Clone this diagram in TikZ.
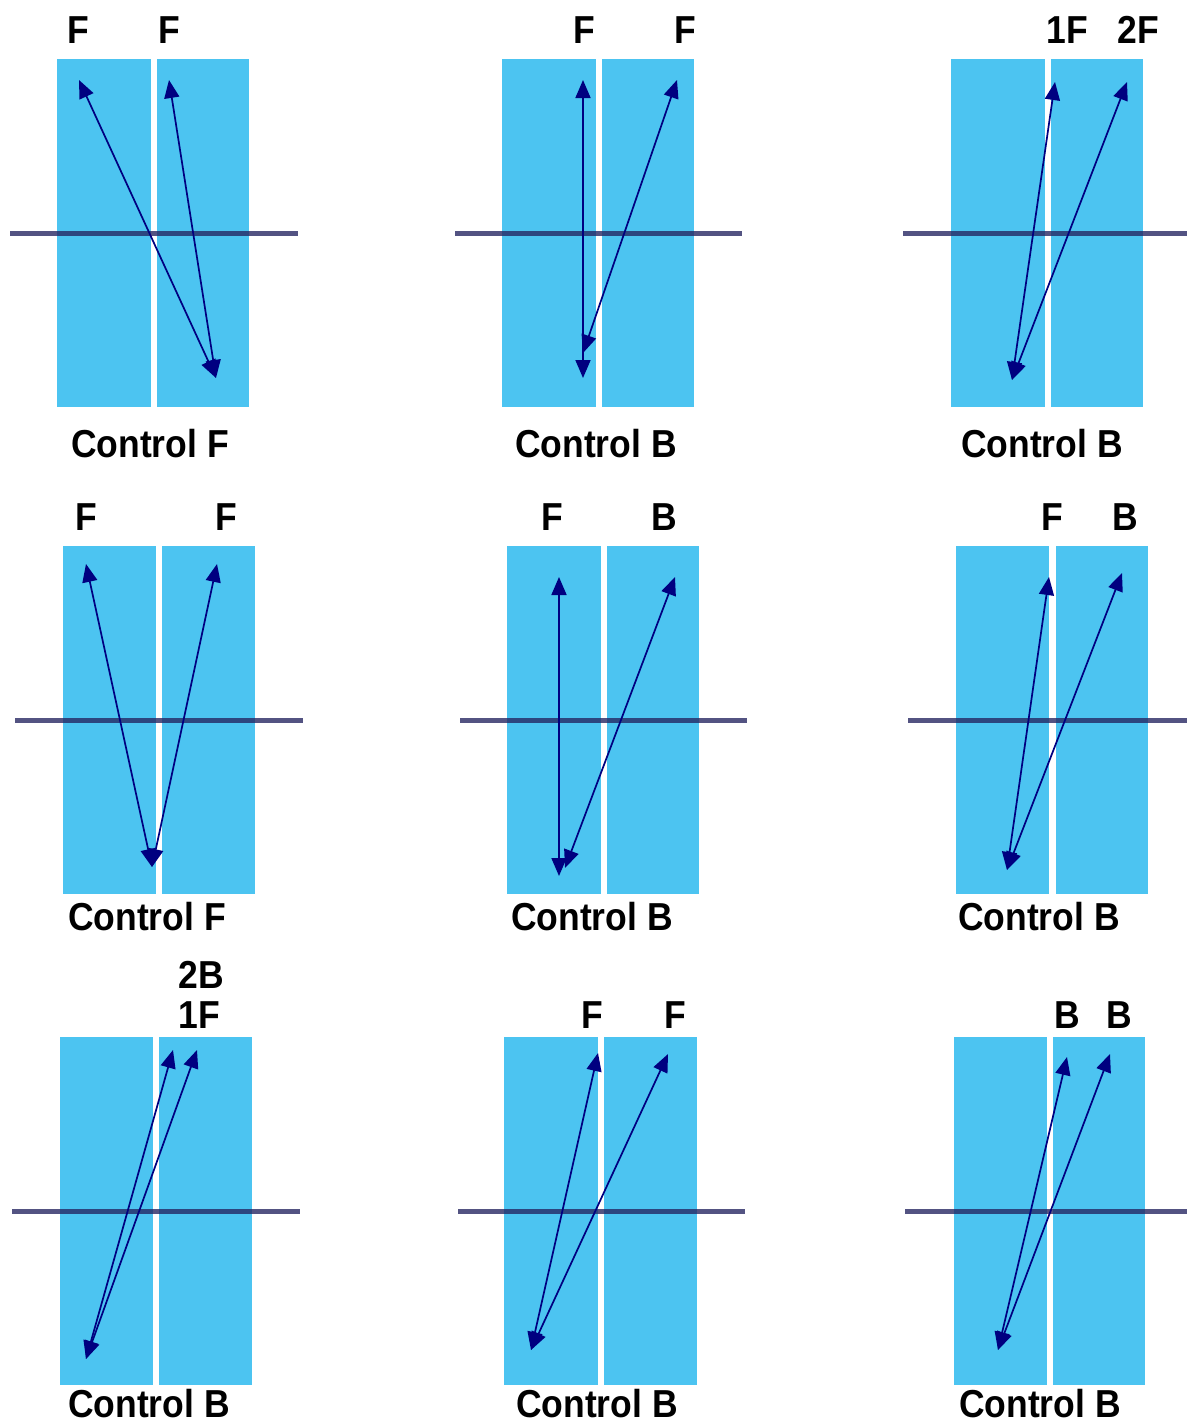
\documentclass[tikz,border=0pt]{standalone}
\usepackage{fontspec}
\setmainfont{Liberation Sans}[FakeStretch=0.91]
\usetikzlibrary{arrows.meta}
\definecolor{slab}{RGB}{76,196,241}
\definecolor{axis}{RGB}{35,35,95}
\definecolor{ray}{RGB}{0,0,128}
\tikzset{
  slabbox/.style={fill=slab,draw=none},
  axisline/.style={draw=axis,line width=5pt,opacity=0.78},
  raypath/.style={draw=ray,line width=1.7pt,{Triangle[length=18pt,width=15pt]}-{Triangle[length=18pt,width=15pt]}},
  lbl/.style={inner sep=0pt,font=\fontsize{39}{39}\selectfont\bfseries}
}
\begin{document}
\begin{tikzpicture}[x=1pt,y=-1pt]
\useasboundingbox[fill=white] (0,0) rectangle (1187,1428);
% ---------- Panel 1
\fill[slabbox] (57,59) rectangle (151,407);
\fill[slabbox] (157,59) rectangle (249,407);
\draw[axisline] (10,233) -- (298,233);
\coordinate (p1b) at (216,378);
\coordinate (p1t1) at (79,80);
\coordinate (p1t2) at (169,80);
\draw[raypath] (p1b) -- (p1t1);
\draw[raypath] (p1b) -- (p1t2);
\node[lbl] (p1l1) at (78,30) {F};
\node[lbl] (p1l2) at (169,30) {F};
\node[lbl] (p1c) at (150,444) {Control F};
% ---------- Panel 2
\fill[slabbox] (502,59) rectangle (596,407);
\fill[slabbox] (602,59) rectangle (694,407);
\draw[axisline] (455,233) -- (742,233);
\coordinate (p2b1) at (583,378);
\coordinate (p2t1) at (583,80);
\coordinate (p2b2) at (583,353);
\coordinate (p2t2) at (677,80);
\draw[raypath] (p2b1) -- (p2t1);
\draw[raypath] (p2b2) -- (p2t2);
\node[lbl] (p2l1) at (584,30) {F};
\node[lbl] (p2l2) at (685,30) {F};
\node[lbl] (p2c) at (596,444) {Control B};
% ---------- Panel 3
\fill[slabbox] (951,59) rectangle (1045,407);
\fill[slabbox] (1051,59) rectangle (1143,407);
\draw[axisline] (903,233) -- (1187,233);
\coordinate (p3b) at (1012,380);
\coordinate (p3t1) at (1055,82);
\coordinate (p3t2) at (1127,82);
\draw[raypath] (p3b) -- (p3t1);
\draw[raypath] (p3b) -- (p3t2);
\node[lbl] (p3l1) at (1067,30) {1F};
\node[lbl] (p3l2) at (1138,30) {2F};
\node[lbl] (p3c) at (1042,444) {Control B};
% ---------- Panel 4
\fill[slabbox] (63,546) rectangle (156,894);
\fill[slabbox] (162,546) rectangle (255,894);
\draw[axisline] (15,720) -- (303,720);
\coordinate (p4b) at (152,867);
\coordinate (p4t1) at (86,564);
\coordinate (p4t2) at (217,564);
\draw[raypath] (p4b) -- (p4t1);
\draw[raypath] (p4b) -- (p4t2);
\node[lbl] (p4l1) at (86,517) {F};
\node[lbl] (p4l2) at (226,517) {F};
\node[lbl] (p4c) at (147,917) {Control F};
% ---------- Panel 5
\fill[slabbox] (507,546) rectangle (601,894);
\fill[slabbox] (607,546) rectangle (699,894);
\draw[axisline] (460,720) -- (747,720);
\coordinate (p5b1) at (559,876);
\coordinate (p5t1) at (559,577);
\coordinate (p5b2) at (565,868);
\coordinate (p5t2) at (675,577);
\draw[raypath] (p5b1) -- (p5t1);
\draw[raypath] (p5b2) -- (p5t2);
\node[lbl] (p5l1) at (552,517) {F};
\node[lbl] (p5l2) at (664,517) {B};
\node[lbl] (p5c) at (592,917) {Control B};
% ---------- Panel 6
\fill[slabbox] (956,546) rectangle (1049,894);
\fill[slabbox] (1056,546) rectangle (1148,894);
\draw[axisline] (908,720) -- (1187,720);
\coordinate (p6b) at (1007,870);
\coordinate (p6t1) at (1049,577);
\coordinate (p6t2) at (1122,573);
\draw[raypath] (p6b) -- (p6t1);
\draw[raypath] (p6b) -- (p6t2);
\node[lbl] (p6l1) at (1052,517) {F};
\node[lbl] (p6l2) at (1125,517) {B};
\node[lbl] (p6c) at (1039,917) {Control B};
% ---------- Panel 7
\fill[slabbox] (60,1037) rectangle (153,1385);
\fill[slabbox] (159,1037) rectangle (252,1385);
\draw[axisline] (12,1211) -- (300,1211);
\coordinate (p7b) at (86,1359);
\coordinate (p7t1) at (173,1050);
\coordinate (p7t2) at (197,1050);
\draw[raypath] (p7b) -- (p7t1);
\draw[raypath] (p7b) -- (p7t2);
\node[lbl] (p7l1) at (201,975) {2B};
\node[lbl] (p7l2) at (199,1015) {1F};
\node[lbl] (p7c) at (149,1404) {Control B};
% ---------- Panel 8
\fill[slabbox] (504,1037) rectangle (598,1385);
\fill[slabbox] (604,1037) rectangle (697,1385);
\draw[axisline] (458,1211) -- (745,1211);
\coordinate (p8b) at (531,1350);
\coordinate (p8t1) at (598,1053);
\coordinate (p8t2) at (668,1054);
\draw[raypath] (p8b) -- (p8t1);
\draw[raypath] (p8b) -- (p8t2);
\node[lbl] (p8l1) at (592,1015) {F};
\node[lbl] (p8l2) at (675,1015) {F};
\node[lbl] (p8c) at (597,1404) {Control B};
% ---------- Panel 9
\fill[slabbox] (954,1037) rectangle (1047,1385);
\fill[slabbox] (1053,1037) rectangle (1145,1385);
\draw[axisline] (905,1211) -- (1187,1211);
\coordinate (p9b) at (998,1350);
\coordinate (p9t1) at (1067,1057);
\coordinate (p9t2) at (1110,1054);
\draw[raypath] (p9b) -- (p9t1);
\draw[raypath] (p9b) -- (p9t2);
\node[lbl] (p9l1) at (1067,1015) {B};
\node[lbl] (p9l2) at (1119,1015) {B};
\node[lbl] (p9c) at (1040,1404) {Control B};
\end{tikzpicture}
\end{document}
